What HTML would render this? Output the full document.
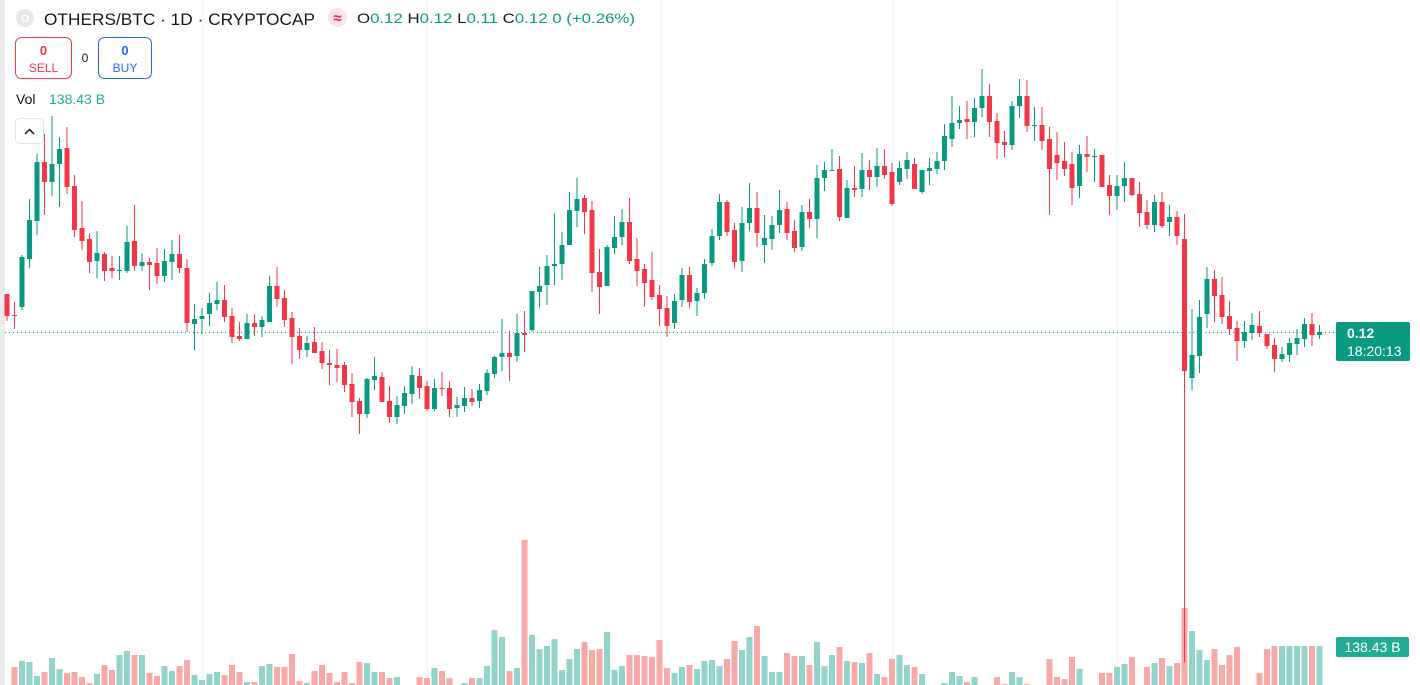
<!DOCTYPE html>
<html><head><meta charset="utf-8"><style>
html,body{margin:0;padding:0;background:#fff;width:1420px;height:685px;overflow:hidden;font-family:"Liberation Sans",sans-serif}
svg{display:block}
</style></head><body>
<svg id="chart" width="1420" height="685" viewBox="0 0 1420 685" xmlns="http://www.w3.org/2000/svg">
<rect x="0" y="0" width="5" height="685" fill="#ebebeb"/>
<g id="grid"></g>
<g id="vols"></g>
<line x1="5" y1="332.5" x2="1336" y2="332.5" stroke="#089981" stroke-width="1" stroke-dasharray="1,3"/>
<g id="candles"></g>
<!-- header -->
<circle cx="25" cy="18" r="9" fill="#e6e6e6"/>
<text x="25" y="22" font-size="11" fill="#fff" text-anchor="middle" font-weight="bold">O</text>
<text x="44" y="25" font-size="17" fill="#131722" textLength="271" lengthAdjust="spacingAndGlyphs">OTHERS/BTC · 1D · CRYPTOCAP</text>
<rect x="328" y="8" width="19" height="19" rx="9.5" fill="#fbe0e6"/>
<text x="337.5" y="23" font-size="15" fill="#e91e63" text-anchor="middle" font-weight="bold">≈</text>
<text x="357" y="23" font-size="14" fill="#089981" textLength="278" lengthAdjust="spacingAndGlyphs"><tspan fill="#131722">O</tspan>0.12 <tspan fill="#131722">H</tspan>0.12 <tspan fill="#131722">L</tspan>0.11 <tspan fill="#131722">C</tspan>0.12 0 (+0.26%)</text>
<g>
<rect x="15.5" y="37.5" width="56" height="41" rx="6" fill="#fff" stroke="#f23645"/>
<text x="43.5" y="55" font-size="13" font-weight="bold" fill="#f23645" text-anchor="middle">0</text>
<text x="43.5" y="72" font-size="12" fill="#f23645" text-anchor="middle">SELL</text>
</g>
<text x="85" y="62" font-size="12" fill="#131722" text-anchor="middle">0</text>
<g>
<rect x="98.5" y="37.5" width="53" height="41" rx="6" fill="#fff" stroke="#2962ff"/>
<text x="125" y="55" font-size="13" font-weight="bold" fill="#2962ff" text-anchor="middle">0</text>
<text x="125" y="72" font-size="12" fill="#2962ff" text-anchor="middle">BUY</text>
</g>
<text x="16" y="104" font-size="14" fill="#131722">Vol <tspan x="49" fill="#22ab94">138.43 B</tspan></text>
<g>
<rect x="15.5" y="118.5" width="28" height="25" rx="4" fill="#fff" stroke="#e0e3eb"/>
<path d="M25 134 L29.5 129.5 L34 134" fill="none" stroke="#131722" stroke-width="1.5"/>
</g>
<g>
<rect x="1336" y="322" width="74" height="39" rx="2" fill="#089981"/>
<text x="1347" y="338" font-size="14" font-weight="bold" fill="#fff">0.12</text>
<text x="1347" y="356" font-size="14" fill="#fff">18:20:13</text>
</g>
<g>
<rect x="1336" y="637" width="73" height="20" rx="2" fill="#22ab94"/>
<text x="1372.5" y="652" font-size="14" fill="#fff" text-anchor="middle">138.43 B</text>
</g>
</svg>
<script>
const opens=[706,685,693,741,779,838,818,836,852,814,772,761,739,746,732,729,729,759,734,738,737,724,738,746,732,676,681,686,696,700,684,664,661,677,673,678,714,702,682,664,650,658,649,637,635,635,616,599,586,620,623,599,583,594,606,624,614,591,612,612,592,594,602,599,609,626,643,647,644,667,670,708,715,734,736,755,789,802,790,728,714,752,763,778,741,731,720,705,692,677,700,725,699,707,737,764,798,770,739,777,792,755,761,775,791,769,753,788,781,822,829,831,782,812,811,830,823,834,828,818,831,836,808,829,831,839,861,877,881,878,892,904,879,858,855,894,904,875,875,861,845,839,836,814,846,844,845,815,804,814,822,806,788,775,798,778,783,761,622,644,686,721,705,684,672,659,667,674,666,655,641,645,656,661,676,665];
const highs=[706,698,745,801,846,866,884,863,873,825,799,767,769,748,744,744,774,795,747,742,752,751,760,765,741,696,692,707,718,715,692,678,686,686,684,724,733,710,688,672,664,673,658,650,651,638,627,602,622,643,628,614,604,614,634,632,619,621,628,619,603,613,611,616,631,644,681,669,686,689,709,733,745,787,768,808,822,805,799,751,755,784,791,802,762,736,748,715,704,706,732,733,712,741,771,806,800,777,793,817,808,785,784,810,798,780,795,801,835,838,851,844,820,834,847,840,852,851,837,839,848,842,830,842,848,876,904,894,899,902,931,916,887,869,899,921,920,893,893,873,868,858,848,855,864,851,845,825,825,838,822,818,800,805,808,795,789,786,691,700,733,730,723,699,679,679,687,689,666,662,653,662,671,682,687,675];
const lows=[679,671,690,732,765,785,804,793,806,763,750,727,722,719,722,720,727,729,729,710,716,718,720,727,668,650,666,674,690,678,657,659,661,664,663,678,693,673,636,641,643,647,631,615,618,608,583,566,582,610,598,577,576,586,596,601,589,589,604,583,583,588,594,592,605,622,629,619,638,648,668,692,695,715,720,755,773,766,708,686,714,746,755,736,714,693,700,674,663,671,693,692,684,701,734,760,764,732,728,769,753,737,750,767,760,748,749,772,762,809,829,779,782,803,803,810,813,821,794,815,821,811,806,815,826,830,853,871,861,863,883,863,841,843,850,882,868,859,850,785,820,824,795,802,828,818,813,785,790,798,804,773,771,768,772,764,755,338,610,627,672,678,676,665,639,652,660,663,651,628,638,638,645,653,654,661];
const closes=[684,684,743,780,838,818,836,851,813,770,759,738,747,729,729,730,758,734,738,735,724,739,746,732,677,681,684,697,700,683,663,661,677,673,680,714,701,680,663,650,657,647,637,635,632,615,598,586,621,624,598,583,595,607,625,612,591,612,611,591,595,602,598,610,627,643,647,643,667,665,709,714,734,736,755,790,801,788,727,713,753,763,778,739,729,717,703,691,674,699,725,698,707,736,764,798,768,738,777,792,767,762,775,790,767,752,788,781,822,830,830,783,812,810,830,823,834,825,796,832,840,811,830,832,839,864,877,880,878,892,904,878,857,855,894,904,874,875,859,831,837,831,812,846,843,844,813,804,814,822,805,787,775,798,774,783,764,629,645,683,721,704,683,671,659,668,675,667,654,641,646,657,662,676,665,668];
const volumes=[0,18,24,23,9,13,27,16,12,13,8,2,11,20,15,30,34,30,30,12,9,19,14,19,25,10,5,11,13,10,20,13,3,3,19,21,18,18,31,4,2,14,20,12,3,13,2,23,22,13,13,7,8,0,0,8,7,17,14,7,0,2,7,7,19,55,48,14,17,145,50,36,39,46,15,26,36,43,35,36,53,15,19,30,30,29,28,45,17,12,18,20,16,24,25,19,26,44,35,48,59,29,13,13,32,29,29,20,43,19,30,38,24,23,22,32,11,8,26,30,20,18,11,0,0,2,13,9,3,8,0,0,8,1,13,8,1,0,0,26,8,6,28,16,0,0,12,12,18,21,28,0,18,22,27,19,22,77,54,35,25,36,20,30,38,0,0,12,36,39,39,39,39,39,39,39];
const gridIdx=[26,56,87,118,148];

const NS='http://www.w3.org/2000/svg';
const X0=7, STEP=7.5, PMAX=1000;
function xScale(i){return X0+i*STEP;}
function yScale(v){return PMAX-v;}
function vScale(v){return 685-v;}
function mk(tag,attrs,parent){const e=document.createElementNS(NS,tag);for(const k in attrs)e.setAttribute(k,attrs[k]);parent.appendChild(e);return e;}
const grid=document.getElementById('grid'),vg=document.getElementById('vols'),cg=document.getElementById('candles');
gridIdx.forEach(function(i){
  const l=mk('line',{x1:Math.round(xScale(i))+0.5,x2:Math.round(xScale(i))+0.5,y1:0,y2:685,stroke:'#f0f3fa','stroke-width':1},grid);
  
  
});
volumes.forEach(function(v,i){
  if(v<=0)return;
  const up=closes[i]>=opens[i];
  const r=mk('rect',{x:xScale(i)-3,y:vScale(v),width:6,height:685-vScale(v),fill:up?'#92d3cc':'#f7a9a7'},vg);
  
  
});
opens.forEach(function(o,i){
  const c=closes[i],up=c>=o,col=up?'#089981':'#f23645';
  const x=xScale(i);
  const g=mk('g',{},cg);
  
  
  mk('rect',{x:x-0.5,y:yScale(highs[i]),width:1,height:Math.max(1,yScale(lows[i])-yScale(highs[i])),fill:col},g);
  const top=yScale(Math.max(o,c)),bot=yScale(Math.min(o,c));
  mk('rect',{x:x-2.5,y:top,width:5,height:Math.max(1,bot-top),fill:col},g);
});
</script>
</body></html>
